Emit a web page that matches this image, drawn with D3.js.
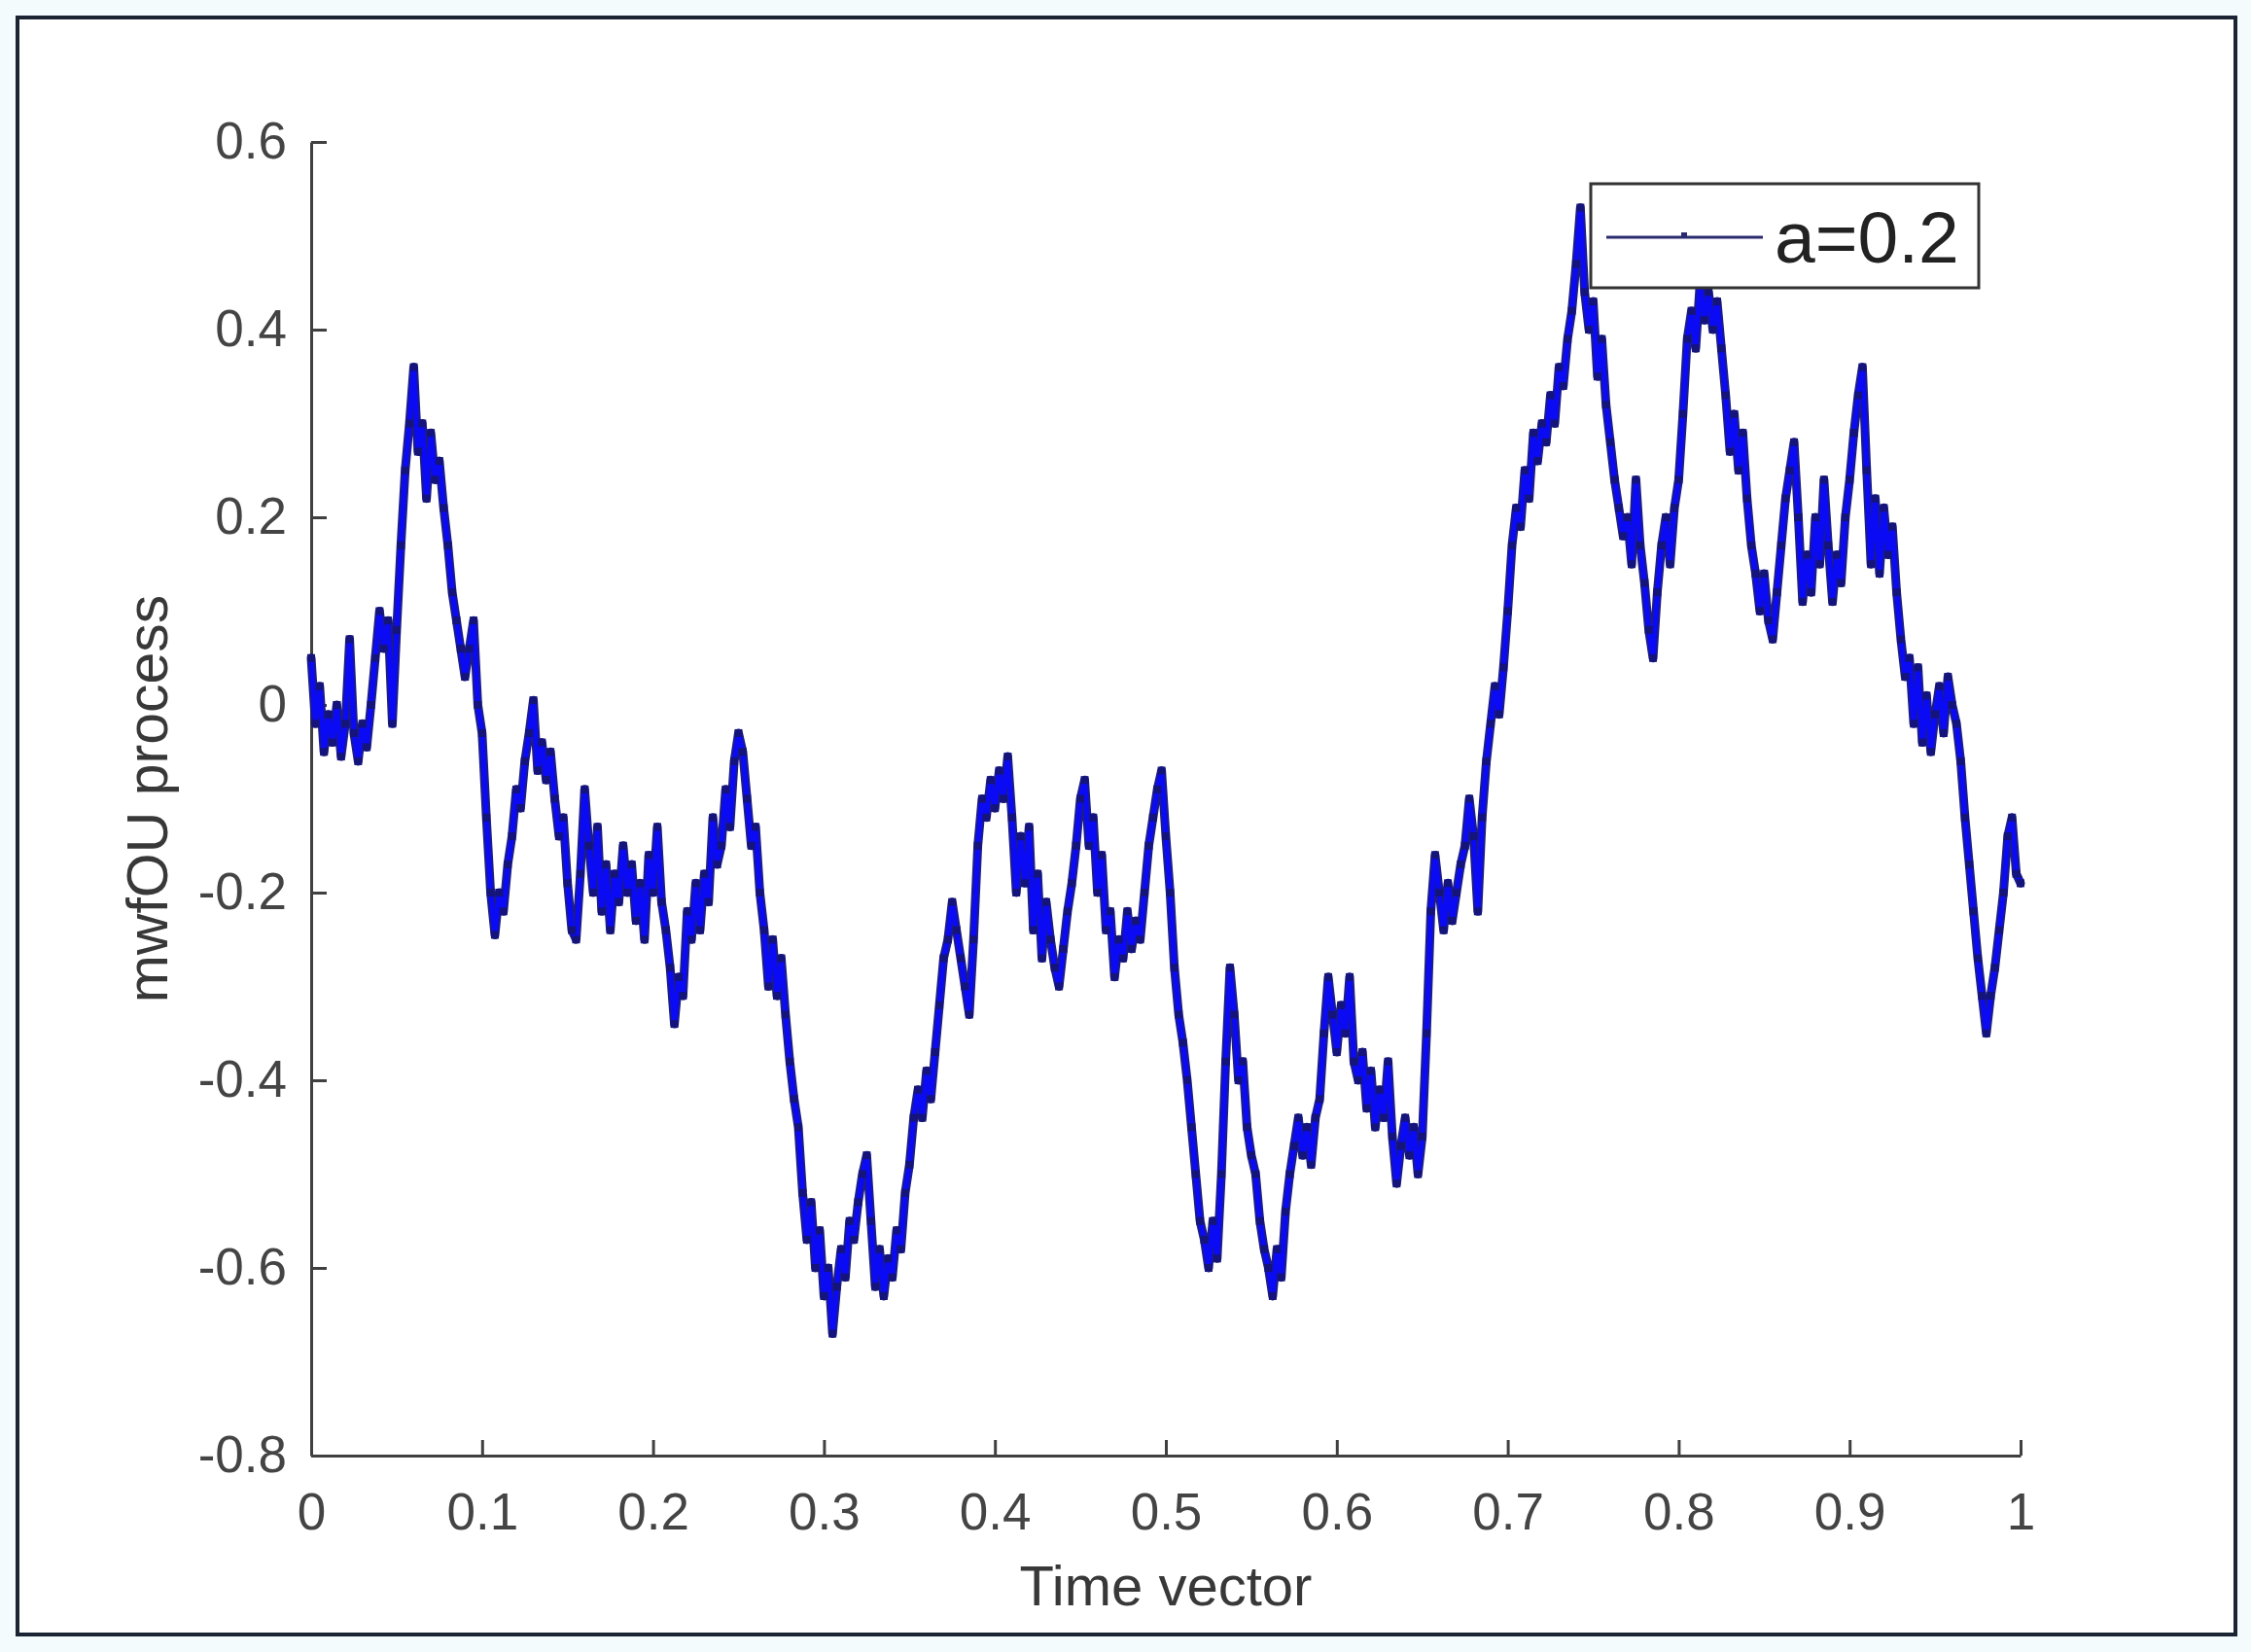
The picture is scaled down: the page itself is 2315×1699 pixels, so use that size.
<!DOCTYPE html>
<html>
<head>
<meta charset="utf-8">
<script src="https://cdn.jsdelivr.net/npm/d3@7"></script>
<style>
  html, body { margin: 0; padding: 0; background: #f4fbfc; }
  svg { display: block; }
  text { font-family: "Liberation Sans", Arial, Helvetica, sans-serif; }
</style>
</head>
<body>
<script>
// ---------------- data ----------------
const xTicks = [0, 0.1, 0.2, 0.3, 0.4, 0.5, 0.6, 0.7, 0.8, 0.9, 1];
const xTickLabels = ["0", "0.1", "0.2", "0.3", "0.4", "0.5", "0.6", "0.7", "0.8", "0.9", "1"];
const yTicks = [-0.8, -0.6, -0.4, -0.2, 0, 0.2, 0.4, 0.6];
const yTickLabels = ["-0.8", "-0.6", "-0.4", "-0.2", "0", "0.2", "0.4", "0.6"];
const xLabel = "Time vector";
const yLabel = "mwfOU process";
const seriesName = "a=0.2";
// sample step of the time vector (401 samples on [0,1])
const timeStep = 0.0025;
// mwfOU process values
const mwfOU = [
  0.05, -0.02, 0.02, -0.05, -0.01, -0.04, 0.0, -0.055, -0.02, 0.07,
  -0.03, -0.06, -0.02, -0.045, 0.0, 0.05, 0.1, 0.06, 0.09, -0.02,
  0.08, 0.17, 0.25, 0.3, 0.36, 0.27, 0.3, 0.22, 0.29, 0.24,
  0.26, 0.21, 0.17, 0.12, 0.09, 0.06, 0.03, 0.06, 0.09, 0.0,
  -0.03, -0.12, -0.2, -0.245, -0.2, -0.22, -0.17, -0.14, -0.09, -0.11,
  -0.06, -0.03, 0.005, -0.07, -0.04, -0.08, -0.05, -0.1, -0.14, -0.12,
  -0.19, -0.24, -0.25, -0.18, -0.09, -0.15, -0.2, -0.13, -0.22, -0.17,
  -0.24, -0.18, -0.21, -0.15, -0.2, -0.17, -0.23, -0.19, -0.25, -0.16,
  -0.2, -0.13, -0.21, -0.24, -0.28, -0.34, -0.29, -0.31, -0.22, -0.25,
  -0.19, -0.24, -0.18, -0.21, -0.12, -0.17, -0.15, -0.09, -0.13, -0.06,
  -0.03, -0.05, -0.1, -0.15, -0.13, -0.2, -0.24, -0.3, -0.25, -0.31,
  -0.27, -0.33, -0.38, -0.42, -0.45, -0.52, -0.57, -0.53, -0.6, -0.56,
  -0.63, -0.6, -0.67, -0.62, -0.58, -0.61, -0.55, -0.57, -0.53, -0.5,
  -0.48, -0.55, -0.62, -0.58, -0.63, -0.59, -0.61, -0.56, -0.58, -0.52,
  -0.49, -0.44, -0.41, -0.44, -0.39, -0.42, -0.37, -0.32, -0.27, -0.25,
  -0.21, -0.24, -0.27, -0.3, -0.33, -0.25, -0.15, -0.1, -0.12, -0.08,
  -0.11, -0.07, -0.1, -0.055, -0.12, -0.2, -0.14, -0.19, -0.13, -0.24,
  -0.18, -0.27, -0.21, -0.25, -0.28, -0.3, -0.26, -0.22, -0.19, -0.15,
  -0.1, -0.08, -0.15, -0.12, -0.2, -0.16, -0.24, -0.22, -0.29, -0.25,
  -0.27, -0.22, -0.26, -0.23, -0.25, -0.2, -0.15, -0.12, -0.09, -0.07,
  -0.14, -0.2, -0.28, -0.33, -0.36, -0.4, -0.45, -0.5, -0.55, -0.57,
  -0.6, -0.55, -0.59, -0.5, -0.38, -0.28, -0.33, -0.4, -0.38, -0.45,
  -0.48, -0.5, -0.55, -0.58, -0.6, -0.63, -0.58, -0.61, -0.54, -0.5,
  -0.47, -0.44, -0.48, -0.45, -0.49, -0.44, -0.42, -0.35, -0.29, -0.33,
  -0.37, -0.32, -0.35, -0.29, -0.38, -0.4, -0.37, -0.43, -0.39, -0.45,
  -0.41, -0.44, -0.38, -0.46, -0.51, -0.47, -0.44, -0.48, -0.45, -0.5,
  -0.46, -0.35, -0.22, -0.16, -0.2, -0.24, -0.19, -0.23, -0.2, -0.17,
  -0.15, -0.1, -0.14, -0.22, -0.12, -0.06, -0.02, 0.02, -0.01, 0.04,
  0.1, 0.17, 0.21, 0.19, 0.25, 0.22, 0.29, 0.26, 0.3, 0.28,
  0.33, 0.3, 0.36, 0.34, 0.39, 0.42, 0.47, 0.53, 0.44, 0.4,
  0.43, 0.35, 0.39, 0.32, 0.28, 0.24, 0.21, 0.18, 0.2, 0.15,
  0.24, 0.17, 0.13, 0.08, 0.05, 0.12, 0.17, 0.2, 0.15, 0.21,
  0.24, 0.31, 0.39, 0.42, 0.38, 0.45, 0.41, 0.44, 0.4, 0.43,
  0.38, 0.33, 0.27, 0.31, 0.25, 0.29, 0.22, 0.17, 0.14, 0.1,
  0.14, 0.09, 0.07, 0.12, 0.17, 0.22, 0.25, 0.28, 0.2, 0.11,
  0.16, 0.12, 0.2, 0.15, 0.24, 0.17, 0.11, 0.16, 0.13, 0.2,
  0.24, 0.29, 0.33, 0.36, 0.25, 0.15, 0.22, 0.14, 0.21, 0.16,
  0.19, 0.12, 0.07, 0.03, 0.05, -0.02, 0.04, -0.04, 0.01, -0.05,
  -0.01, 0.02, -0.03, 0.03, 0.0, -0.02, -0.06, -0.12, -0.17, -0.22,
  -0.27, -0.31, -0.35, -0.31, -0.28, -0.24, -0.2, -0.14, -0.12, -0.18,
  -0.19
];

// ---------------- layout ----------------
const W = 2315, H = 1699;
const svg = d3.select("body").append("svg").attr("width", W).attr("height", H);

svg.append("rect").attr("x", 0).attr("y", 0).attr("width", W).attr("height", H).attr("fill", "#f4fbfc");
svg.append("rect").attr("x", 18).attr("y", 18).attr("width", 2281).attr("height", 1663)
  .attr("fill", "#ffffff").attr("stroke", "#1b2433").attr("stroke-width", 4);

const x = d3.scaleLinear().domain([0, 1]).range([320, 2078]);
const y = d3.scaleLinear().domain([-0.8, 0.6]).range([1497, 146]);

const axisColor = "#404040";

// x axis
const gx = svg.append("g").attr("transform", `translate(0,${y(-0.8)})`)
  .call(d3.axisBottom(x).tickValues(xTicks)
    .tickFormat((d, i) => xTickLabels[i])
    .tickSizeInner(-16).tickSizeOuter(0).tickPadding(38));
// y axis
const gy = svg.append("g").attr("transform", `translate(${x(0)},0)`)
  .call(d3.axisLeft(y).tickValues(yTicks)
    .tickFormat((d, i) => yTickLabels[i])
    .tickSizeInner(-16).tickSizeOuter(0).tickPadding(25));

[gx, gy].forEach(g => {
  g.select(".domain").attr("stroke", axisColor).attr("stroke-width", 3);
  g.selectAll(".tick line").attr("stroke", axisColor).attr("stroke-width", 3);
  g.selectAll(".tick text").attr("fill", "#444")
    .style("font-size", "53px").style("font-family", '"Liberation Sans", Arial, sans-serif');
});

// axis labels
svg.append("text").attr("x", (x(0) + x(1)) / 2).attr("y", 1651)
  .attr("text-anchor", "middle").attr("fill", "#383838")
  .style("font-size", "58px").text(xLabel);
svg.append("text")
  .attr("transform", `translate(172,${(y(0.6) + y(-0.8)) / 2}) rotate(-90)`)
  .attr("text-anchor", "middle").attr("fill", "#383838")
  .style("font-size", "59px").text(yLabel);

// series
const pts = mwfOU.map((v, i) => [i * timeStep, v]);
const line = d3.line().x(d => x(d[0])).y(d => y(d[1]));
svg.append("path").datum(pts).attr("d", line)
  .attr("fill", "none").attr("stroke", "#1c1c8a").attr("stroke-width", 9)
  .attr("stroke-linejoin", "round").attr("stroke-linecap", "round");
svg.append("path").datum(pts).attr("d", line)
  .attr("fill", "none").attr("stroke", "#0a0af5").attr("stroke-width", 5)
  .attr("stroke-linejoin", "round").attr("stroke-linecap", "round");
svg.append("g").selectAll("rect").data(pts).join("rect")
  .attr("x", d => x(d[0]) - 4).attr("y", d => y(d[1]) - 4)
  .attr("width", 8).attr("height", 8).attr("fill", "#14147a");

// legend
const lg = svg.append("g");
lg.append("rect").attr("x", 1636).attr("y", 189).attr("width", 399).attr("height", 107)
  .attr("fill", "#ffffff").attr("stroke", "#333").attr("stroke-width", 3);
lg.append("line").attr("x1", 1652).attr("x2", 1813).attr("y1", 244).attr("y2", 244)
  .attr("stroke", "#2a2a6e").attr("stroke-width", 3);
lg.append("rect").attr("x", 1729).attr("y", 239).attr("width", 6).attr("height", 6).attr("fill", "#2a2a6e");
lg.append("text").attr("x", 1825).attr("y", 270).attr("fill", "#222")
  .style("font-size", "75px").text(seriesName);
</script>
</body>
</html>
